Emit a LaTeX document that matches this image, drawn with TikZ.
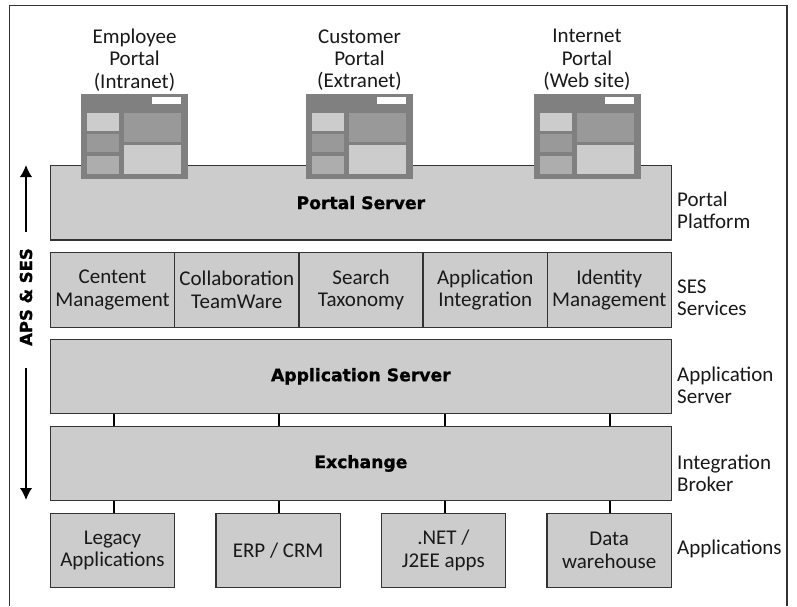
\documentclass[tikz,border=0pt]{standalone}
\usepackage{fontspec}
\setmainfont{Carlito}
\newfontfamily\heavy{DejaVu Sans Bold}[FakeBold=1.2]
\definecolor{boxgray}{gray}{0.8}
\definecolor{winA}{gray}{0.5}
\definecolor{winB}{gray}{0.6}
\definecolor{winC}{gray}{0.68}
\definecolor{linegray}{gray}{0.2}
\usetikzlibrary{arrows.meta}
\tikzset{
  x=1pt,y=-1pt,
  lab/.style={font=\fontsize{21}{22.3}\selectfont,align=center,text=black!90,inner sep=0pt},
  sidelab/.style={lab,align=left,anchor=west},
  box/.style={draw=linegray,line width=1.3pt,fill=boxgray,rectangle,inner sep=0pt,minimum width=#1,anchor=north west},
  tallbox/.style={box=621pt,minimum height=74.5pt},
  cellbox/.style={box=124.3pt,minimum height=74.5pt,align=center,font=\fontsize{21}{22.3}\selectfont,text=black!90},
  boldlab/.style={font=\heavy\fontsize{17.2}{20}\selectfont,text=black},
  conn/.style={draw=black,line width=2pt},
  updown/.style={draw=black,line width=2pt,-{Latex[length=12pt,width=12.5pt]}}
}
\newcommand{\portalwin}[1]{%
  \begin{scope}[shift={(#1,94)}]
    \fill[winA] (0,0) rectangle (107,85);
    \fill[white] (71,3) rectangle (100,10);
    \fill[boxgray] (6,19) rectangle (38,37);
    \fill[winB] (6,40) rectangle (38,58);
    \fill[winC] (6,62) rectangle (38,80);
    \fill[winB] (43,19) rectangle (100,48);
    \fill[boxgray] (43,51) rectangle (100,80);
  \end{scope}}
\begin{document}
\begin{tikzpicture}
\useasboundingbox (0,0) rectangle (797,606);
\fill[white] (0,0) rectangle (797,606);
\draw[draw=linegray,line width=1.1pt] (9.7,606) -- (9.7,5.7) -- (787,5.7) -- (787,606);

\node[tallbox,boldlab] (portal) at (49.7,164.7) {Portal Server};
\portalwin{81}
\portalwin{306}
\portalwin{534}
\node[lab] (t1) at (134.5,60) {Employee\\Portal\\(Intranet)};
\node[lab] (t2) at (359.5,60) {Customer\\Portal\\(Extranet)};
\node[lab] (t3) at (587,60) {Internet\\Portal\\(Web site)};

\node[cellbox] (s1) at (49.7,252) {Centent\\Management};
\node[cellbox] (s2) at (174,252) {Collaboration\\TeamWare};
\node[cellbox] (s3) at (298.2,252) {Search\\Taxonomy};
\node[cellbox] (s4) at (422.4,252) {Application\\Integration};
\node[cellbox] (s5) at (546.5,252) {Identity\\Management};

\node[tallbox,boldlab] (app) at (49.7,338.5) {\raisebox{-1pt}{Application Server}};
\node[tallbox,boldlab] (ex) at (49.7,425.5) {\raisebox{-1pt}{Exchange}};

\node[cellbox] (a1) at (49.7,512.5) {Legacy\\Applications};
\node[cellbox] (a2) at (215.3,512.5) {ERP / CRM};
\node[cellbox] (a3) at (380.6,512.5) {.NET /\\J2EE apps};
\node[cellbox] (a4) at (546.4,512.5) {Data\\warehouse};

\coordinate (c1) at (113.5,0);
\coordinate (c2) at (279,0);
\coordinate (c3) at (444.7,0);
\coordinate (c4) at (610,0);
\foreach \c in {c1,c2,c3,c4}{
  \draw[conn] (app.south -| \c) -- (ex.north -| \c);
  \draw[conn] (ex.south -| \c) -- (a1.north -| \c);
}

\node[sidelab] (l1) at (677,210.5) {Portal\\Platform};
\node[sidelab] (l2) at (677,297.5) {SES\\Services};
\node[sidelab] (l3) at (677,385.5) {Application\\Server};
\node[sidelab] (l4) at (677,473) {Integration\\Broker};
\node[sidelab] (l5) at (677,549) {Applications};

\node[font=\heavy\fontsize{16.5}{20}\selectfont,rotate=90,inner sep=0pt] (aps) at (26,297) {APS \& SES};
\coordinate (upstart) at (26,232);
\coordinate (uptip) at (26,165);
\coordinate (downstart) at (26,368);
\coordinate (downtip) at (26,500);
\draw[updown] (upstart) -- (uptip);
\draw[updown] (downstart) -- (downtip);
\end{tikzpicture}
\end{document}
